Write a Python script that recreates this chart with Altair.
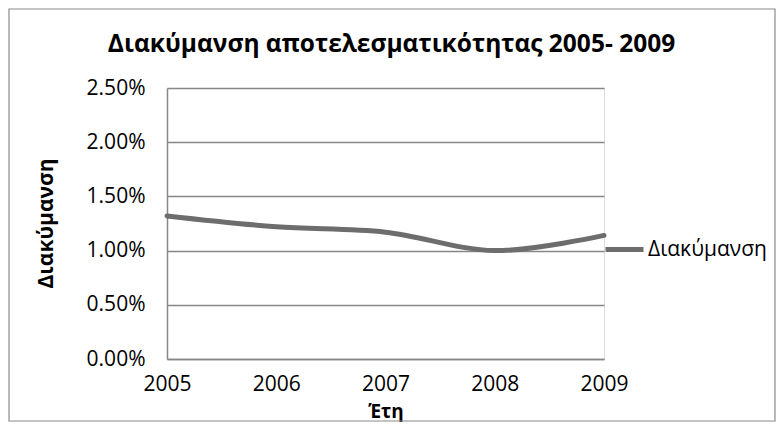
import altair as alt
import pandas as pd

years = [2005, 2006, 2007, 2008, 2009]
values = [0.0132, 0.0122, 0.0117, 0.0100, 0.0114]
series = ["Διακύμανση"] * 5
y_ticks = [0, 0.005, 0.01, 0.015, 0.02, 0.025]

title_text = "Διακύμανση αποτελεσματικότητας 2005- 2009"
x_title = "Έτη"
y_title = "Διακύμανση"

df = pd.DataFrame({"year": years, "value": values, "series": series})

FONT = "Open Sans"
GRID = "#878787"
LINE = "#6d6d6d"

line = alt.Chart(df).mark_line(
    interpolate="catmull-rom", strokeWidth=5, strokeCap="round"
).encode(
    x=alt.X("year:Q", scale=alt.Scale(domain=[2005, 2009], nice=False, zero=False),
            axis=alt.Axis(values=years, format="d", title=x_title, grid=False, ticks=False,
                          labelPadding=14, labelFontSize=21, labelFont=FONT, labelColor="#000",
                          titleFont=FONT, titleFontSize=19, titleFontWeight="bold", titleColor="#000",
                          titleBaseline="alphabetic", titleY=58,
                          domainColor=GRID, domainWidth=1.5, labelFlush=False)),
    y=alt.Y("value:Q", scale=alt.Scale(domain=[0, 0.025], nice=False),
            axis=alt.Axis(values=y_ticks, format=".2%", title=y_title, ticks=False,
                          labelPadding=22, labelFontSize=21, labelFont=FONT, labelColor="#000",
                          titleFont=FONT, titleFontSize=21, titleFontWeight="bold", titleColor="#000",
                          titleX=-111, titleY=135, titleAngle=-90, titleBaseline="bottom",
                          gridColor=GRID, gridWidth=1.5, domainColor=GRID, domainWidth=1.5)),
    color=alt.Color("series:N", scale=alt.Scale(range=[LINE]),
                    legend=alt.Legend(title=None, orient="none", legendX=436, legendY=140,
                                      symbolType="stroke", symbolSize=1444, symbolStrokeWidth=5,
                                      symbolStrokeColor=LINE,
                                      labelFont=FONT, labelFontSize=21, labelColor="#000",
                                      labelOffset=2, padding=0)),
)

border = alt.Chart(alt.Data(values=[{"a": 1}])).mark_rect(
    filled=False, stroke="#8a8a8a", strokeWidth=1.2
).encode(
    x=alt.value(-158), x2=alt.value(608), y=alt.value(-79), y2=alt.value(333)
)

chart = alt.layer(border, line).properties(
    width=437, height=271,
    autosize=alt.AutoSizeParams(type="none"),
    padding={"left": 159, "top": 80, "right": 172, "bottom": 63},
    title=alt.Title(title_text, font=FONT, fontSize=24.5, fontWeight="bold", color="#000",
                    anchor="middle", dx=6, offset=-68, baseline="alphabetic"),
).configure_view(stroke=None).configure(background="white")

chart.save("out.html", embed_options={"renderer": "svg", "actions": False})
